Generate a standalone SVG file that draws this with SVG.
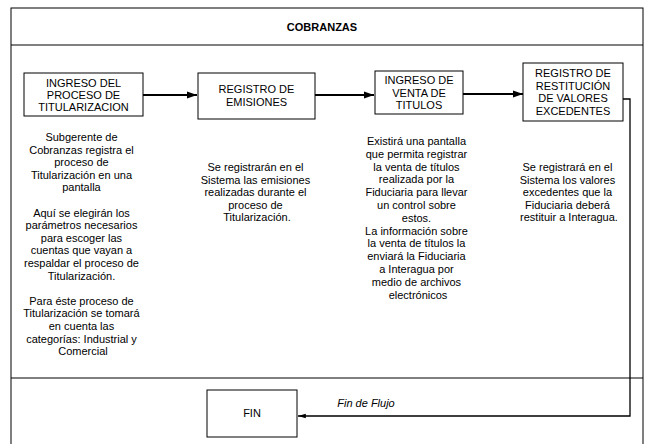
<svg xmlns="http://www.w3.org/2000/svg" width="646" height="444" viewBox="0 0 646 444">
<style>
.frame{fill:none;stroke:#000;stroke-width:1}
.box{fill:#fff;stroke:#000;stroke-width:1}
.t{font-family:"Liberation Sans",Arial,sans-serif;font-size:11px;fill:#000;text-anchor:middle}
.title{font-family:"Liberation Sans",Arial,sans-serif;font-size:11px;font-weight:bold;fill:#000;text-anchor:middle}
.lbl{font-family:"Liberation Sans",Arial,sans-serif;font-size:11px;font-style:italic;fill:#000;text-anchor:middle}
.c{fill:none;stroke:#000;stroke-width:2}
.c2{fill:none;stroke:#000;stroke-width:1.3}
</style>
<defs>
<marker id="ah" viewBox="0 0 10 10" refX="10" refY="5" markerWidth="5" markerHeight="5" orient="auto" markerUnits="strokeWidth">
<path d="M0,1.5 L10,5 L0,8.5 z" fill="#000"/>
</marker>
<marker id="ah2" viewBox="0 0 10 10" refX="10" refY="5" markerWidth="6" markerHeight="6" orient="auto" markerUnits="strokeWidth">
<path d="M0,2 L10,5 L0,8 z" fill="#000"/>
</marker>
</defs>
<rect width="646" height="444" fill="#fff"/>
<g id="pool">
<rect class="frame" x="11" y="8" width="632" height="440"/>
<line class="frame" x1="11" y1="45" x2="643" y2="45"/>
<line class="frame" x1="11" y1="378" x2="643" y2="378"/>
<text class="title" x="322" y="31">COBRANZAS</text>
</g>
<g id="connectors">
<line class="c" x1="143" y1="95" x2="197" y2="95" marker-end="url(#ah)"/>
<line class="c" x1="315" y1="95" x2="374" y2="95" marker-end="url(#ah)"/>
<line class="c" x1="463" y1="94" x2="523" y2="94" marker-end="url(#ah)"/>
<polyline class="c2" points="623,99 630,99 630,416 298,416" marker-end="url(#ah2)"/>
<text class="lbl" x="366" y="407">Fin de Flujo</text>
</g>
<g id="n1">
<rect class="box" x="24" y="73" width="119" height="43"/>
<text class="t"><tspan x="83.5" y="86.5">INGRESO DEL</tspan><tspan x="83.5" y="98.5">PROCESO DE</tspan><tspan x="83.5" y="110.5">TITULARIZACION</tspan></text>
</g>
<g id="n2">
<rect class="box" x="198" y="73" width="117" height="46"/>
<text class="t"><tspan x="256.5" y="93">REGISTRO DE</tspan><tspan x="256.5" y="106">EMISIONES</tspan></text>
</g>
<g id="n3">
<rect class="box" x="375" y="71" width="88" height="43"/>
<text class="t"><tspan x="419" y="84">INGRESO DE</tspan><tspan x="419" y="96.5">VENTA DE</tspan><tspan x="419" y="109">TITULOS</tspan></text>
</g>
<g id="n4">
<rect class="box" x="523" y="63" width="100" height="58"/>
<text class="t"><tspan x="573" y="77">REGISTRO DE</tspan><tspan x="573" y="89.5">RESTITUCIÓN</tspan><tspan x="573" y="102">DE VALORES</tspan><tspan x="573" y="114.5">EXCEDENTES</tspan></text>
</g>
<g id="fin">
<rect class="box" x="207" y="390" width="90" height="47"/>
<text class="t" x="252" y="417">FIN</text>
</g>
<g id="desc1">
<text class="t">
<tspan x="83" y="141">Subgerente de</tspan>
<tspan x="83" y="153.6">Cobranzas registra el</tspan>
<tspan x="83" y="166.2">proceso de</tspan>
<tspan x="83" y="178.8">Titularización en una</tspan>
<tspan x="83" y="191.4">pantalla</tspan>
<tspan x="83" y="216.6">Aquí se elegirán los</tspan>
<tspan x="83" y="229.2">parámetros necesarios</tspan>
<tspan x="83" y="241.8">para escoger las</tspan>
<tspan x="83" y="254.4">cuentas que vayan a</tspan>
<tspan x="83" y="267">respaldar el proceso de</tspan>
<tspan x="83" y="279.6">Titularización.</tspan>
<tspan x="83" y="304.8">Para éste proceso de</tspan>
<tspan x="83" y="317.4">Titularización se tomará</tspan>
<tspan x="83" y="330">en cuenta las</tspan>
<tspan x="83" y="342.6">categorías: Industrial y</tspan>
<tspan x="83" y="355.2">Comercial</tspan>
</text>
</g>
<g id="desc2">
<text class="t">
<tspan x="257" y="171">Se registrarán en el</tspan>
<tspan x="257" y="183.6">Sistema las emisiones</tspan>
<tspan x="257" y="196.2">realizadas durante el</tspan>
<tspan x="257" y="208.8">proceso de</tspan>
<tspan x="257" y="221.4">Titularización.</tspan>
</text>
</g>
<g id="desc3">
<text class="t">
<tspan x="418" y="145">Existirá una pantalla</tspan>
<tspan x="418" y="157.8">que permita registrar</tspan>
<tspan x="418" y="170.6">la venta de títulos</tspan>
<tspan x="418" y="183.4">realizada por la</tspan>
<tspan x="418" y="196.2">Fiduciaria para llevar</tspan>
<tspan x="418" y="209">un control sobre</tspan>
<tspan x="418" y="221.8">estos.</tspan>
<tspan x="418" y="234.6">La información sobre</tspan>
<tspan x="418" y="247.4">la venta de títulos la</tspan>
<tspan x="418" y="260.2">enviará la Fiduciaria</tspan>
<tspan x="418" y="273">a Interagua por</tspan>
<tspan x="418" y="285.8">medio de archivos</tspan>
<tspan x="418" y="298.6">electrónicos</tspan>
</text>
</g>
<g id="desc4">
<text class="t">
<tspan x="569" y="171">Se registrará en el</tspan>
<tspan x="569" y="183.6">Sistema los valores</tspan>
<tspan x="569" y="196.2">excedentes que la</tspan>
<tspan x="569" y="208.8">Fiduciaria deberá</tspan>
<tspan x="569" y="221.4">restituir a Interagua.</tspan>
</text>
</g>
</svg>
